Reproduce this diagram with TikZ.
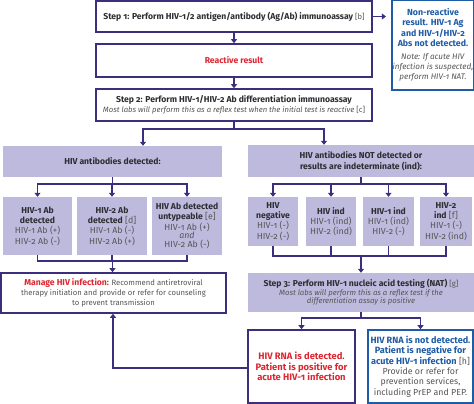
\documentclass[tikz,border=0pt]{standalone}
\usepackage{fontspec}
\setmainfont{Fira Sans}[Numbers=OldStyle]
\usetikzlibrary{arrows.meta,positioning}
\usetikzlibrary{calc}

\definecolor{hivpurple}{RGB}{61,45,125}
\definecolor{hivlav}{RGB}{190,186,222}
\definecolor{hivred}{RGB}{222,38,48}
\definecolor{hivblue}{RGB}{30,92,166}
\definecolor{hivgray}{RGB}{85,85,85}
\definecolor{hivdark}{RGB}{45,45,50}

\def\bpt{8.6}
\newcommand{\bsize}{\fontsize{\bpt}{10.5}\selectfont\bfseries}
\newcommand{\hd}[1]{{\bsize\color{hivdark}#1}}
\newcommand{\rd}[1]{{\bsize\color{hivred}#1}}
\newcommand{\bl}[1]{{\bsize\color{hivblue}#1}}

\begin{document}
\begin{tikzpicture}[
      x=1pt, y=-1pt,
      whitebox/.style={
         draw=hivpurple,
         line width=1.6pt,
         fill=white,
         align=center,
         inner sep=1pt,
         text=hivgray,
         font=\fontsize{7.7}{10.5}\selectfont},
      bluebox/.style={whitebox, draw=hivblue},
      lavbox/.style={
         fill=hivlav,
         align=center,
         inner sep=1pt,
         text=hivgray,
         font=\fontsize{7.7}{10.5}\selectfont},
      leafbox/.style={lavbox, font=\fontsize{8.8}{10.3}\selectfont},
      bigtext/.style 2 args={font={\def\bpt{#1}\fontsize{#2}{10.4}\selectfont}},
      link/.style={draw=hivpurple, line width=1.4pt},
      myarrow/.style={link, -{Triangle[width=6pt,length=4pt]}}
      ]
      \useasboundingbox (0,0) rectangle (474,404);

      % top of the chart
      \node[whitebox, minimum width=276pt, minimum height=31pt] (step1) at (234,16.5)
        {\hd{Step 1: Perform HIV-1/2 antigen/antibody (Ag/Ab) immunoassay} [b]};
      \node[bluebox, bigtext={8.8}{8.1}, minimum width=80pt, minimum height=90pt] (nonreact) at (433,45)
        {\bl{Non-reactive}\\\bl{result. HIV-1 Ag}\\\bl{and HIV-1/HIV-2}\\\bl{Abs not detected.}\\[2pt]
         \textit{Note: If acute HIV}\\\textit{infection is suspected,}\\\textit{perform HIV-1 NAT.}};
      \node[whitebox, minimum width=276pt, minimum height=33pt] (reactive) at (234,60.5)
        {\rd{Reactive result}};
      \node[whitebox, minimum width=276pt, minimum height=32pt] (step2) at (234,105)
        {\hd{Step 2: Perform HIV-1/HIV-2 Ab differentiation immunoassay}\\
         \textit{Most labs will perform this as a reflex test when the initial test is reactive} [c]};

      % antibodies detected
      \node[lavbox, minimum width=219pt, minimum height=31pt] (abpos) at (112.5,161.5)
        {\hd{HIV antibodies detected:}};
      \node[leafbox, minimum width=69pt, minimum height=58pt] (l1) at (37.5,226)
        {\hd{HIV-1 Ab}\\\hd{detected}\\HIV-1 Ab (+)\\HIV-2 Ab (-)};
      \node[leafbox, minimum width=70pt, minimum height=58pt] (l2) at (112,226)
        {\hd{HIV-2 Ab}\\\hd{detected} [d]\\HIV-1 Ab (-)\\HIV-2 Ab (+)};
      \node[leafbox, minimum width=70pt, minimum height=58pt] (l3) at (187,226)
        {\hd{HIV Ab detected}\\\hd{untypeable} [e]\\HIV-1 Ab (+)\\[-1.5pt]\textit{and}\\[-1.5pt]HIV-2 Ab (-)};
      \node[whitebox, minimum width=225pt, minimum height=40pt] (manage) at (113.5,293)
        {\rd{Manage HIV infection:} Recommend antiretroviral\\[-0.5pt]
         therapy initiation and provide or refer for counseling\\[-0.5pt]to prevent transmission};

      % antibodies not detected
      \node[lavbox, minimum width=226pt, minimum height=32pt] (abneg) at (361,161)
        {\hd{HIV antibodies NOT detected or}\\\hd{results are indeterminate (ind):}};
      \node[leafbox, minimum width=50pt, minimum height=49pt] (r1) at (273,221.5)
        {\hd{HIV}\\\hd{negative}\\HIV-1 (-)\\HIV-2 (-)};
      \node[leafbox, minimum width=50pt, minimum height=49pt] (r2) at (331,221.5)
        {\hd{HIV ind}\\HIV-1 (ind)\\HIV-2 (ind)};
      \node[leafbox, minimum width=51pt, minimum height=49pt] (r3) at (388.5,221.5)
        {\hd{HIV-1 ind}\\HIV-1 (ind)\\HIV-2 (-)};
      \node[leafbox, minimum width=52pt, minimum height=49pt] (r4) at (446,221.5)
        {\hd{HIV-2}\\\hd{ind} [f]\\HIV-1 (-)\\HIV-2 (ind)};
      \node[lavbox, minimum width=226pt, minimum height=39pt] (step3) at (361,292.5)
        {\hd{Step 3: Perform HIV-1 nucleic acid testing (NAT)} [g]\\[-2pt]
         \textit{Most labs will perform this as a reflex test if the}\\[-2pt]
         \textit{differentiation assay is positive}};
      \node[whitebox, bigtext={9.4}{8.8}, minimum width=107pt, minimum height=73pt] (rnapos) at (301.5,366.5)
        {\rd{HIV RNA is detected.}\\\rd{Patient is positive for}\\\rd{acute HIV-1 infection}};
      \node[bluebox, bigtext={9.1}{8.8}, minimum width=105pt, minimum height=73pt] (rnaneg) at (420.5,366.5)
        {\bl{HIV RNA is not detected.}\\\bl{Patient is negative for}\\\bl{acute HIV-1 infection} [h]\\
         Provide or refer for\\prevention services,\\including PrEP and PEP.};

      % forks and joins
      \coordinate (s2fork) at (234,129);
      \coordinate (lfork) at (112.5,184);
      \coordinate (ljoin) at (112.5,261);
      \coordinate (rfork) at (361,184);
      \coordinate (rjoin) at (361,256);
      \coordinate (s3fork) at (361,318);
      \coordinate (back) at (113,368);

      \draw[myarrow] (step1.east) -- ([xshift=-5pt]step1.east -| nonreact.west);
      \draw[myarrow] (step1) -- (reactive);
      \draw[myarrow] (reactive) -- (step2);
      \draw[link] (step2) -- (s2fork);
      \draw[myarrow] (s2fork) -| ($(abpos.north)+(30.5,0)$);
      \draw[myarrow] (s2fork) -| ($(abneg.north)+(-37,0)$);

      \draw[link] (abpos) -- (lfork);
      \foreach \b in {l1,l2,l3} {
        \draw[myarrow] (lfork) -| (\b.north);
        \draw[link] (\b.south) |- (ljoin);
      }
      \draw[myarrow] (ljoin) -- (manage.north -| ljoin);

      \draw[link] (abneg) -- (rfork);
      \foreach \b in {r1,r2,r3,r4} {
        \draw[myarrow] (rfork) -| (\b.north);
        \draw[link] (\b.south) |- (rjoin);
      }
      \draw[myarrow] (rjoin) -- (step3);

      \draw[link] (step3) -- (s3fork);
      \draw[myarrow] (s3fork) -| (rnapos.north);
      \draw[myarrow] (s3fork) -| (rnaneg.north);
      \draw[myarrow] (rnapos.west |- back) -- (back) -- (manage.south -| back);
     \end{tikzpicture}
\end{document}
